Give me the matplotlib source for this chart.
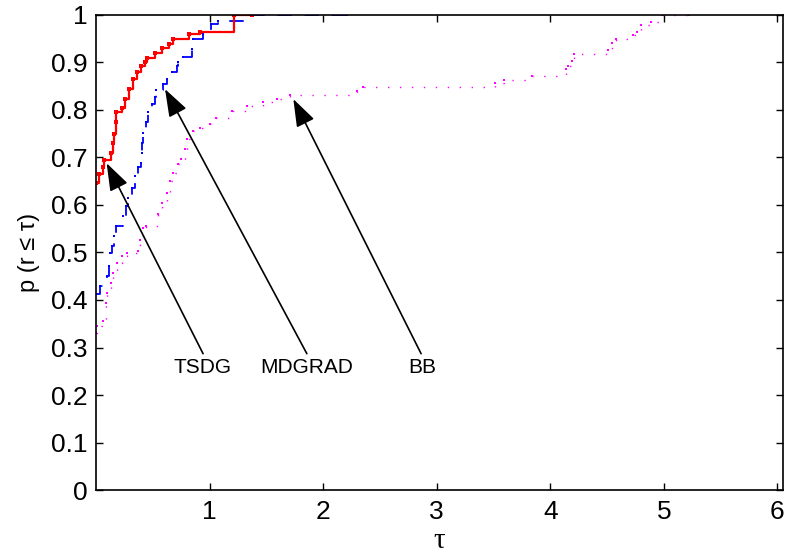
import matplotlib.pyplot as plt

plt.rcParams["font.family"] = ["Liberation Sans", "DejaVu Sans"]

# performance profile data (tau, fraction of problems)
tsdg_x = [0, 0.03, 0.059, 0.07, 0.135, 0.153, 0.162, 0.172, 0.18, 0.23, 0.256, 0.293,
          0.323, 0.358, 0.40, 0.43, 0.45, 0.52, 0.58, 0.64, 0.68, 0.82, 0.92, 1.216, 1.37]
tsdg_y = [0.647, 0.665, 0.679, 0.694, 0.71, 0.73, 0.75, 0.775, 0.795, 0.805, 0.823, 0.844,
          0.865, 0.881, 0.893, 0.90, 0.91, 0.921, 0.93, 0.939, 0.949, 0.96, 0.965, 1.0, 1.0]

mdgrad_x = [0, 0.035, 0.094, 0.117, 0.125, 0.138, 0.159, 0.176, 0.24, 0.264, 0.285, 0.314,
            0.344, 0.373, 0.40, 0.404, 0.408, 0.417, 0.438, 0.461, 0.49, 0.52, 0.53, 0.587,
            0.628, 0.667, 0.711, 0.725, 0.764, 0.843, 0.852, 0.945, 1.013, 1.078, 1.35, 2.21]
mdgrad_y = [0.413, 0.43, 0.45, 0.471, 0.499, 0.513, 0.534, 0.556, 0.577, 0.598, 0.615, 0.636,
            0.661, 0.679, 0.689, 0.71, 0.731, 0.752, 0.774, 0.795, 0.812, 0.828, 0.842, 0.854,
            0.865, 0.879, 0.892, 0.902, 0.911, 0.928, 0.949, 0.96, 0.981, 0.988, 1.0, 1.0]

bb_x = [0, 0.006, 0.064, 0.088, 0.094, 0.132, 0.147, 0.182, 0.226, 0.27, 0.373, 0.388,
        0.417, 0.44, 0.549, 0.578, 0.622, 0.652, 0.681, 0.725, 0.746, 0.784, 0.80, 0.857,
        0.916, 1.004, 1.06, 1.196, 1.33, 1.474, 1.59, 1.71, 2.297, 2.355, 3.515, 3.595,
        3.84, 4.14, 4.16, 4.19, 4.21, 4.51, 4.54, 4.58, 4.725, 4.76, 4.80, 4.89, 4.98, 5.22]
bb_y = [0.331, 0.345, 0.355, 0.394, 0.415, 0.436, 0.457, 0.478, 0.492, 0.499, 0.503, 0.527,
        0.552, 0.555, 0.58, 0.605, 0.626, 0.65, 0.668, 0.686, 0.696, 0.717, 0.738, 0.756,
        0.763, 0.770, 0.784, 0.798, 0.809, 0.816, 0.823, 0.831, 0.84, 0.848, 0.856, 0.863,
        0.872, 0.886, 0.893, 0.904, 0.918, 0.927, 0.942, 0.949, 0.958, 0.965, 0.978, 0.986,
        1.0, 1.0]

labels = ["TSDG", "MDGRAD", "BB"]
arrow_tips = [(0.094, 0.688), (0.608, 0.844), (1.738, 0.823)]
arrow_tails = [(0.943, 0.287), (1.857, 0.287), (2.863, 0.287)]
label_pos = [(0.938, 0.258), (1.859, 0.258), (2.869, 0.258)]

fig = plt.figure(figsize=(7.86, 5.55), dpi=100)
ax = fig.add_axes([0.1221, 0.1171, 0.8741, 0.8559])

ax.step(bb_x, bb_y, where="post", color="magenta", lw=1.0,
        linestyle=(0, (1, 7.6)), marker="s", ms=1.6, mew=0)
ax.step(mdgrad_x, mdgrad_y, where="post", color="blue", lw=1.3,
        linestyle=(0, (8, 7)), marker="s", ms=2.0, mew=0)
ax.step(tsdg_x, tsdg_y, where="post", color="red", lw=1.6,
        marker="s", ms=3.2, mew=0)

for name, tip, tail, pos in zip(labels, arrow_tips, arrow_tails, label_pos):
    ax.annotate("", xy=tip, xytext=tail,
                arrowprops=dict(arrowstyle="-|>,head_length=0.85,head_width=0.3",
                                color="black", lw=1.2, shrinkA=0, shrinkB=0,
                                mutation_scale=20))
    ax.text(pos[0], pos[1], name, ha="center", va="center", fontsize=15)

ax.set_xlim(0, 6.05)
ax.set_ylim(0, 1)
ax.set_xticks([1, 2, 3, 4, 5, 6])
yt = [i / 10 for i in range(11)]
ax.set_yticks(yt)
ax.set_yticklabels(["0"] + [f"{v:.1f}" for v in yt[1:-1]] + ["1"])
ax.tick_params(direction="in", length=5, width=1, top=True, right=True, labelsize=19)
ax.tick_params(axis="y", pad=6)
ax.tick_params(axis="x", pad=7)
for s in ax.spines.values():
    s.set_linewidth(1.2)

ax.set_ylabel("p (r ≤ τ)", fontsize=17, labelpad=8)
ax.set_xlabel("τ", fontsize=21, family=["Liberation Serif", "DejaVu Serif"], labelpad=3)

fig.savefig("out.png", dpi=100)
